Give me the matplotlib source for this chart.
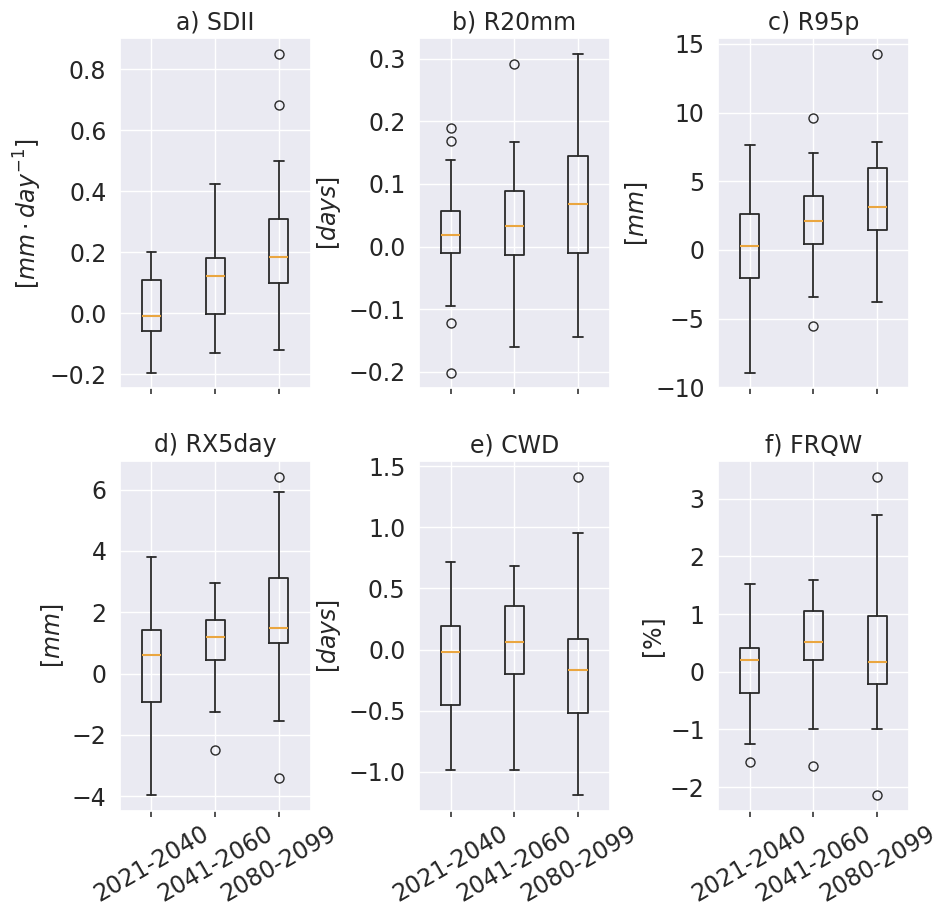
import matplotlib
matplotlib.use("Agg")
import matplotlib.pyplot as plt
import seaborn as sns

sns.set_theme(style="darkgrid")
plt.rcParams["font.family"] = ["DejaVu Sans"]

periods = ["2021-2040", "2041-2060", "2080-2099"]

# five numbers per period: whisker low, q1, median, q3, whisker high
sdii = [[-0.195, -0.058, -0.009, 0.107, 0.199],
        [-0.132, -0.002, 0.120, 0.181, 0.423],
        [-0.120, 0.097, 0.185, 0.309, 0.500]]
sdii_out = [[], [], [0.849, 0.683]]

r20mm = [[-0.095, -0.0106, 0.019, 0.056, 0.138],
         [-0.161, -0.0137, 0.032, 0.089, 0.167],
         [-0.144, -0.0106, 0.0676, 0.144, 0.307]]
r20mm_out = [[0.1886, 0.168, -0.1226, -0.201], [0.292], []]

r95p = [[-8.92, -2.07, 0.29, 2.65, 7.62],
        [-3.42, 0.43, 2.12, 3.93, 7.09],
        [-3.79, 1.47, 3.11, 6.00, 7.84]]
r95p_out = [[], [9.57, -5.52], [14.25]]

rx5day = [[-3.96, -0.928, 0.594, 1.435, 3.81],
          [-1.26, 0.453, 1.20, 1.76, 2.97],
          [-1.56, 0.99, 1.47, 3.12, 5.94]]
rx5day_out = [[], [-2.49], [6.43, -3.40]]

cwd = [[-0.987, -0.458, -0.0217, 0.195, 0.716],
       [-0.987, -0.198, 0.062, 0.353, 0.686],
       [-1.19, -0.521, -0.171, 0.0895, 0.957]]
cwd_out = [[], [], [1.416]]

frqw = [[-1.25, -0.367, 0.212, 0.413, 1.515],
        [-0.998, 0.212, 0.516, 1.056, 1.595],
        [-0.987, -0.207, 0.161, 0.975, 2.714]]
frqw_out = [[-1.56], [-1.64], [3.385, -2.134]]

panels = [
    ("a) SDII", r"$[mm \cdot day^{-1}]$", sdii, sdii_out),
    ("b) R20mm", r"$[days]$", r20mm, r20mm_out),
    ("c) R95p", r"$[mm]$", r95p, r95p_out),
    ("d) RX5day", r"$[mm]$", rx5day, rx5day_out),
    ("e) CWD", r"$[days]$", cwd, cwd_out),
    ("f) FRQW", "[%]", frqw, frqw_out),
]


def make_stats(five, out):
    stats = []
    for q, f in zip(five, out):
        stats.append({"whislo": q[0], "q1": q[1], "med": q[2], "q3": q[3],
                      "whishi": q[4], "fliers": f})
    return stats


fig, axes = plt.subplots(2, 3, figsize=(9.42, 9.10), dpi=100)
fig.subplots_adjust(left=0.127, right=0.965, top=0.958, bottom=0.109,
                    wspace=0.565, hspace=0.206)

line = dict(color="#2a2a2a", linewidth=1.3)
for i, (ax, (title, ylabel, five, out)) in enumerate(zip(axes.flat, panels)):
    ax.bxp(make_stats(five, out), positions=[1, 2, 3], widths=0.3,
           boxprops=line, whiskerprops=line, capprops=line,
           medianprops=dict(color="#eaa640", linewidth=1.5),
           flierprops=dict(marker="o", markerfacecolor="none",
                           markeredgecolor="#2a2a2a", markersize=6.5))
    ax.set_title(title, fontsize=17, color="#262626")
    ax.set_ylabel(ylabel, fontsize=17, color="#262626")
    ax.tick_params(axis="y", labelsize=17, colors="#262626", left=False)
    ax.tick_params(axis="x", bottom=True, length=4, width=1.2, color="#333333",
                   labelsize=17, labelcolor="#262626")
    ax.set_xticks([1, 2, 3])
    if i >= 3:
        ax.set_xticklabels(periods, rotation=30, ha="center")
    else:
        ax.set_xticklabels([])

fig.savefig("out.png", dpi=100)
